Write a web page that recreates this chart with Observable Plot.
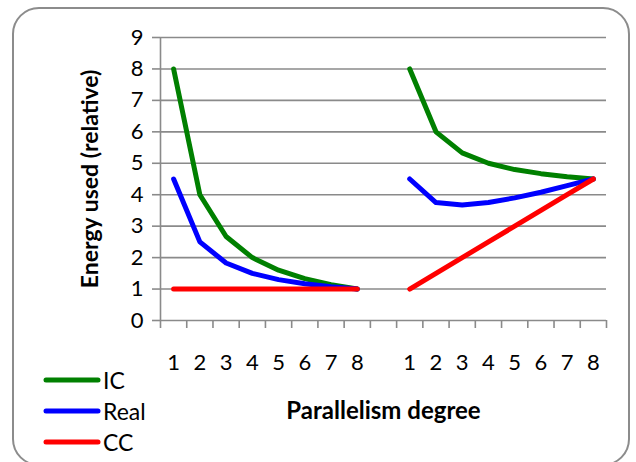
<!DOCTYPE html>
<html>
<head>
<meta charset="utf-8">
<script src="https://cdn.jsdelivr.net/npm/d3@7"></script>
<script src="https://cdn.jsdelivr.net/npm/@observablehq/plot@0.6"></script>
<style>
  html, body { margin: 0; padding: 0; background: #fff; overflow: hidden; }
  #frame {
    position: absolute; left: 12px; top: 7px; width: 618px; height: 459px;
    border: 2px solid #8c8c8c; border-radius: 27px; box-sizing: border-box;
  }
  #chart { position: absolute; left: 0; top: 0; }
  .legend { position: absolute; left: 43px; font-family: Lato, "Open Sans", sans-serif; font-size: 23px; }
  .legend .row { position: absolute; left: 0; height: 30px; display: flex; align-items: center; white-space: nowrap; }
  .legend svg { display: block; margin-right: 2px; }
</style>
</head>
<body>
<div id="frame"></div>
<div id="chart"></div>
<div class="legend" id="legend"></div>
<script>
// Parallelism degrees shown in each of the two groups
const degrees = [1, 2, 3, 4, 5, 6, 7, 8];

// Relative energy, first group
const icLeft   = [8, 4, 2.67, 2, 1.6, 1.33, 1.14, 1];
const realLeft = [4.5, 2.5, 1.83, 1.5, 1.3, 1.17, 1.07, 1];
const ccLeft   = [1, 1, 1, 1, 1, 1, 1, 1];

// Relative energy, second group
const icRight   = [8, 6, 5.33, 5, 4.8, 4.67, 4.57, 4.5];
const realRight = [4.5, 3.75, 3.67, 3.75, 3.9, 4.08, 4.29, 4.5];
const ccRight   = [1, 1.5, 2, 2.5, 3, 3.5, 4, 4.5];

const yTicks = [0, 1, 2, 3, 4, 5, 6, 7, 8, 9];

const seriesNames = ["IC", "Real", "CC"];
const seriesColors = ["#008000", "#0000ff", "#ff0000"];

// Category slots: 8 for the first group, one empty gap, 8 for the second
const gapSlots = 1;
const slotOf = (group, i) => group === 0 ? i : degrees.length + gapSlots + i;
const slotCount = degrees.length * 2 + gapSlots;

const valuesBy = [
  [icLeft, realLeft, ccLeft],
  [icRight, realRight, ccRight]
];

const rows = [];
valuesBy.forEach((groupSeries, g) => {
  groupSeries.forEach((vals, s) => {
    vals.forEach((v, i) => {
      rows.push({slot: slotOf(g, i), value: v, series: seriesNames[s], group: g, degree: degrees[i]});
    });
  });
});

const labelRows = [0, 1].flatMap(g => degrees.map((d, i) => ({slot: slotOf(g, i), label: String(d)})));
const boundaries = d3.range(slotCount + 1).map(k => k - 0.5);

const grid = "#8a8a8a";
const font = "Lato, 'Open Sans', sans-serif";

const chart = Plot.plot({
  width: 636,
  height: 462,
  marginLeft: 160,
  marginRight: 30,
  marginTop: 37,
  marginBottom: 142,
  style: {fontFamily: font, background: "transparent"},
  x: {type: "linear", domain: [-0.5, slotCount - 0.5], axis: null, label: null},
  y: {domain: [0, 9], axis: null, label: null},
  color: {domain: seriesNames, range: seriesColors},
  marks: [
    Plot.ruleY(yTicks.slice(1), {stroke: grid, strokeWidth: 1.6}),
    Plot.axisY({ticks: yTicks, label: null, tickSize: 8, tickPadding: 9, stroke: grid, strokeWidth: 1.6, fill: "#000", fontSize: 22, tickFormat: d => String(d)}),
    Plot.axisX({ticks: boundaries, label: null, tickSize: 8, tickFormat: () => "", stroke: grid, strokeWidth: 1.6}),
    Plot.ruleX([-0.5], {stroke: grid, strokeWidth: 1.6}),
    Plot.ruleY([0], {stroke: grid, strokeWidth: 1.6}),
    Plot.text(labelRows, {x: "slot", y: 0, text: "label", dy: 42, fontSize: 22, fill: "#000"}),
    Plot.text(["Energy used (relative)"], {frameAnchor: "left", textAnchor: "middle", dx: -70, rotate: -90, fontSize: 23, fontWeight: "bold", fill: "#000"}),
    Plot.text(["Parallelism degree"], {x: (slotCount - 1) / 2, y: 0, dy: 91, fontSize: 24, fontWeight: "bold", fill: "#000"}),
    ...seriesNames.map(name =>
      Plot.line(rows.filter(r => r.series === name), {
        x: "slot", y: "value", z: "group", stroke: "series",
        strokeWidth: 5, strokeLinecap: "round", strokeLinejoin: "round"
      })
    )
  ]
});
document.getElementById("chart").appendChild(chart);

// Legend below the left end of the axis
const legend = document.getElementById("legend");
const rowCenters = [380, 411, 442];
seriesNames.forEach((name, i) => {
  const row = document.createElement("div");
  row.className = "row";
  row.style.top = (rowCenters[i] - 15) + "px";
  row.innerHTML = `<svg width="58" height="10"><line x1="3" y1="5" x2="55" y2="5" stroke="${seriesColors[i]}" stroke-width="5" stroke-linecap="round"/></svg><span>${name}</span>`;
  legend.appendChild(row);
});
</script>
</body>
</html>
